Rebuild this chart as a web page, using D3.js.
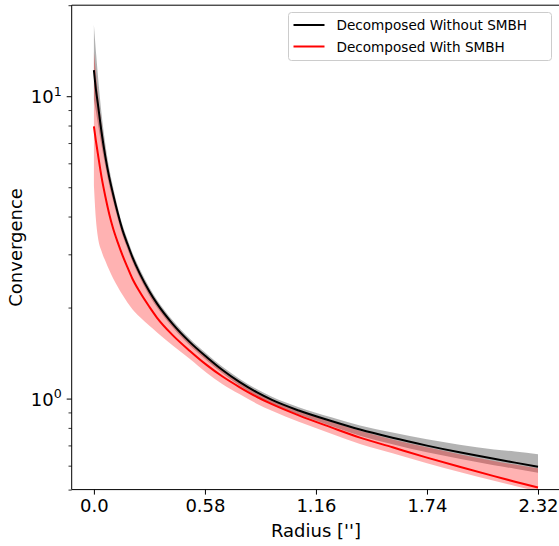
<!DOCTYPE html>
<html>
<head>
<meta charset="utf-8">
<script src="https://cdn.jsdelivr.net/npm/d3@7"></script>
<style>
  html, body { margin: 0; padding: 0; background: #fff; }
  svg { display: block; font-family: "DejaVu Sans", sans-serif; }
</style>
</head>
<body>
<svg id="chart" width="559" height="546"></svg>
<script>
// ---- data ----
const radius = [0, 0.01, 0.02, 0.04, 0.06, 0.08, 0.10, 0.125, 0.15, 0.175, 0.20, 0.24, 0.29, 0.33, 0.41, 0.50, 0.59, 0.67, 0.76, 0.85, 0.93, 1.07, 1.24, 1.39, 1.56, 1.74, 1.91, 2.09, 2.20, 2.32];

const withoutMean  = [12.2, 10.6, 9.5, 7.6, 6.3, 5.4, 4.75, 4.1, 3.6, 3.25, 2.95, 2.59, 2.26, 2.06, 1.77, 1.54, 1.37, 1.245, 1.135, 1.05, 0.99, 0.913, 0.843, 0.79, 0.742, 0.699, 0.664, 0.632, 0.614, 0.595];
const withoutUpper = [17.2, 14.2, 11.9, 8.74, 6.93, 5.78, 5.01, 4.28, 3.74, 3.37, 3.05, 2.68, 2.33, 2.12, 1.82, 1.58, 1.404, 1.276, 1.163, 1.076, 1.015, 0.937, 0.867, 0.815, 0.772, 0.734, 0.704, 0.679, 0.668, 0.655];
const withoutLower = [9.76, 8.95, 8.17, 6.84, 5.86, 5.08, 4.51, 3.92, 3.46, 3.13, 2.85, 2.51, 2.19, 2.0, 1.724, 1.50, 1.336, 1.214, 1.105, 1.022, 0.962, 0.886, 0.812, 0.754, 0.706, 0.664, 0.632, 0.602, 0.586, 0.569];

const withMean  = [7.95, 7.15, 6.5, 5.4, 4.65, 4.08, 3.66, 3.28, 2.97, 2.72, 2.5, 2.25, 2.01, 1.85, 1.625, 1.44, 1.29, 1.185, 1.092, 1.014, 0.958, 0.88, 0.803, 0.743, 0.69, 0.638, 0.595, 0.554, 0.531, 0.508];
const withUpper = [14.0, 12.0, 10.3, 8.0, 6.55, 5.55, 4.85, 4.15, 3.64, 3.28, 2.98, 2.61, 2.28, 2.08, 1.785, 1.548, 1.376, 1.25, 1.138, 1.052, 0.99, 0.91, 0.838, 0.782, 0.732, 0.69, 0.655, 0.622, 0.605, 0.588];
const withLower = [5.07, 3.95, 3.45, 3.07, 2.85, 2.66, 2.50, 2.34, 2.20, 2.08, 1.98, 1.86, 1.74, 1.655, 1.50, 1.355, 1.215, 1.118, 1.035, 0.962, 0.911, 0.838, 0.765, 0.708, 0.659, 0.611, 0.572, 0.535, 0.514, 0.493];

const xTicks = [0.0, 0.58, 1.16, 1.74, 2.32];
const xTickLabels = ["0.0", "0.58", "1.16", "1.74", "2.32"];
const yMajorTicks = [1, 10];
const yMajorExp = ["0", "1"];
const yMinorTicks = [0.5, 0.6, 0.7, 0.8, 0.9, 2, 3, 4, 5, 6, 7, 8, 9, 20];
const xDomain = [-0.116, 2.436];
const yDomain = [0.5, 20];

const seriesNames = ["Decomposed Without SMBH", "Decomposed With SMBH"];
const seriesColors = ["#000000", "#ff0000"];

// ---- layout ----
const svg = d3.select("#chart");
const L = 71.7, T = 5.2, B = 489.6, R = 560.2;

const x = d3.scaleLinear().domain(xDomain).range([L, R]);
const y = d3.scaleLog().domain(yDomain).range([B, T]);

const rows = radius.map((r, i) => ({
  r,
  m0: withoutMean[i], u0: withoutUpper[i], l0: withoutLower[i],
  m1: withMean[i], u1: withUpper[i], l1: withLower[i]
}));

svg.append("clipPath").attr("id", "clip")
  .append("rect").attr("x", L).attr("y", T).attr("width", R - L).attr("height", B - T);

const plot = svg.append("g").attr("clip-path", "url(#clip)");

const curve = d3.curveMonotoneX;
const area = (u, l) => d3.area().curve(curve).x(d => x(d.r)).y0(d => y(d[l])).y1(d => y(d[u]));
const line = (m) => d3.line().curve(curve).x(d => x(d.r)).y(d => y(d[m]));

plot.append("path").datum(rows).attr("d", area("u0", "l0"))
  .attr("fill", "#808080").attr("fill-opacity", 0.6);
plot.append("path").datum(rows).attr("d", area("u1", "l1"))
  .attr("fill", "#ff0000").attr("fill-opacity", 0.3);
plot.append("path").datum(rows).attr("d", line("m0"))
  .attr("fill", "none").attr("stroke", seriesColors[0]).attr("stroke-width", 2);
plot.append("path").datum(rows).attr("d", line("m1"))
  .attr("fill", "none").attr("stroke", seriesColors[1]).attr("stroke-width", 2);

// ---- axes ----
const xAxis = d3.axisBottom(x).tickValues(xTicks).tickFormat((d, i) => xTickLabels[i])
  .tickSize(5).tickPadding(5);
const gx = svg.append("g").attr("transform", `translate(0,${B})`).call(xAxis);
gx.select(".domain").remove();
gx.selectAll(".tick line").attr("stroke", "#000").attr("stroke-width", 1);
gx.selectAll(".tick text").attr("font-size", 18).attr("fill", "#000")
  .attr("font-family", "DejaVu Sans");

const yAxisMinor = d3.axisLeft(y).tickValues(yMinorTicks).tickFormat("").tickSize(3.2);
const gyMinor = svg.append("g").attr("transform", `translate(${L},0)`).call(yAxisMinor);
gyMinor.select(".domain").remove();
gyMinor.selectAll(".tick line").attr("stroke", "#000").attr("stroke-width", 0.8);

const yAxis = d3.axisLeft(y).tickValues(yMajorTicks).tickFormat("").tickSize(5);
const gy = svg.append("g").attr("transform", `translate(${L},0)`).call(yAxis);
gy.select(".domain").remove();
gy.selectAll(".tick line").attr("stroke", "#000").attr("stroke-width", 1);
gy.selectAll(".tick").each(function(d, i) {
  const t = d3.select(this).append("text")
    .attr("x", -10).attr("y", 6.5)
    .attr("text-anchor", "end").attr("fill", "#000")
    .attr("font-family", "DejaVu Sans").attr("font-size", 18);
  t.append("tspan").text("10");
  t.append("tspan").attr("font-size", 12.6).attr("dy", -7.5).text(yMajorExp[i]);
});

// spines
const spine = svg.append("g").attr("fill", "none").attr("stroke", "#000").attr("stroke-width", 1);
spine.append("line").attr("x1", L).attr("x2", L).attr("y1", T).attr("y2", B);
spine.append("line").attr("x1", L).attr("x2", R).attr("y1", B).attr("y2", B);
spine.append("line").attr("x1", L).attr("x2", R).attr("y1", T).attr("y2", T);
spine.append("line").attr("x1", R).attr("x2", R).attr("y1", T).attr("y2", B);

// axis labels
svg.append("text").attr("x", (L + R) / 2).attr("y", 537)
  .attr("text-anchor", "middle").attr("font-size", 18).attr("fill", "#000")
  .text("Radius ['']");
svg.append("text").attr("transform", `translate(22,${(T + B) / 2}) rotate(-90)`)
  .attr("text-anchor", "middle").attr("font-size", 18).attr("fill", "#000")
  .text("Convergence");

// legend
const lg = svg.append("g");
lg.append("rect").attr("x", 288.5).attr("y", 12.5).attr("width", 263).attr("height", 48)
  .attr("rx", 3).attr("fill", "#fff").attr("fill-opacity", 0.8)
  .attr("stroke", "#cccccc").attr("stroke-width", 1);
seriesNames.forEach((name, i) => {
  const cy = 25 + i * 21.5;
  lg.append("line").attr("x1", 293.5).attr("x2", 324.5).attr("y1", cy).attr("y2", cy)
    .attr("stroke", seriesColors[i]).attr("stroke-width", 2);
  lg.append("text").attr("x", 336.5).attr("y", cy + 5)
    .attr("font-size", 13.6).attr("fill", "#000").text(name);
});
</script>
</body>
</html>
